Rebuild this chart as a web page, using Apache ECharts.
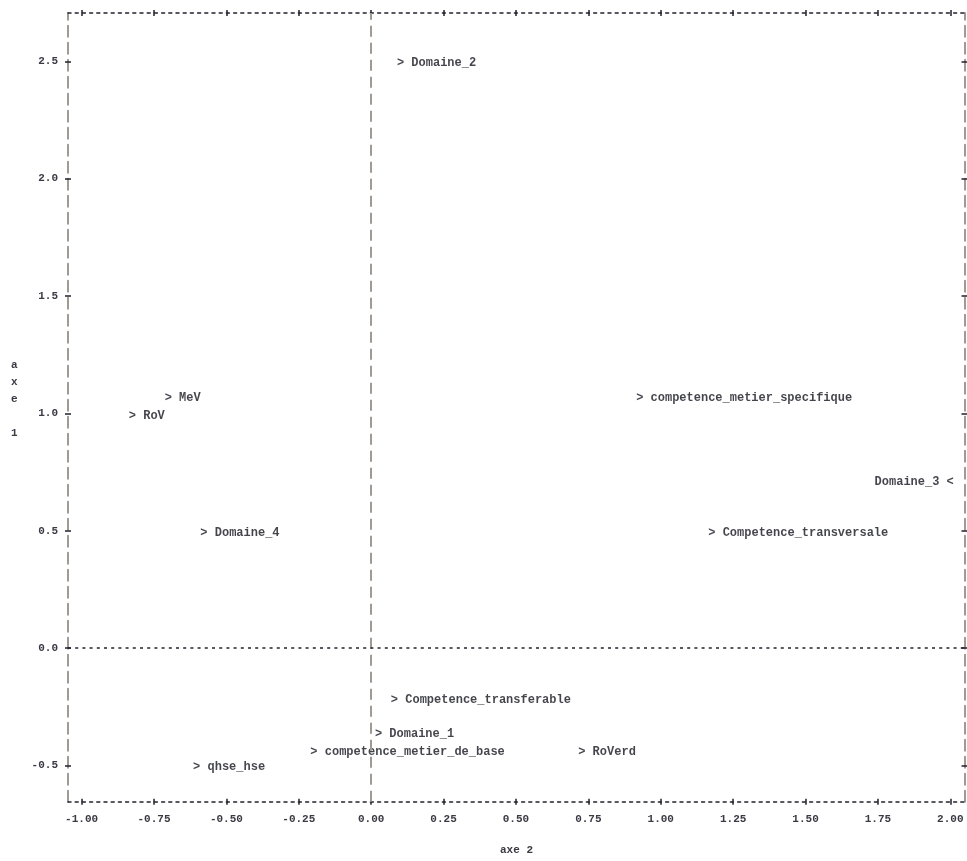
<!DOCTYPE html>
<html>
<head>
<meta charset="utf-8">
<script src="https://cdn.jsdelivr.net/npm/echarts@6/dist/echarts.min.js"></script>
<style>
html, body { margin: 0; padding: 0; background: #fff; }
#chart-container { width: 967px; height: 861px; }
</style>
</head>
<body>
<div id="chart-container"></div>
<script>
// points of the plot (axe 2 horizontal, axe 1 vertical)
var pointNames = ['Domaine_2', 'MeV', 'RoV', 'competence_metier_specifique', 'Domaine_3',
    'Domaine_4', 'Competence_transversale', 'Competence_transferable', 'Domaine_1',
    'competence_metier_de_base', 'RoVerd', 'qhse_hse'];
var axe2Values = [0.089, -0.713, -0.837, 0.915, 2.012, -0.590, 1.164, 0.068, 0.013, -0.210, 0.715, -0.615];
var axe1Values = [2.494, 1.066, 0.990, 1.066, 0.706, 0.491, 0.491, -0.220, -0.365, -0.441, -0.441, -0.507];
var arrowSide = ['>', '>', '>', '>', '<', '>', '>', '>', '>', '>', '>', '>'];

// tick labels
var xTicks = [-1.00, -0.75, -0.50, -0.25, 0.00, 0.25, 0.50, 0.75, 1.00, 1.25, 1.50, 1.75, 2.00];
var yTicks = [-0.5, 0.0, 0.5, 1.0, 1.5, 2.0, 2.5];

var dom = document.getElementById('chart-container');
var myChart = echarts.init(dom, null, { renderer: 'canvas', useDirtyRect: false });

var monoFont = "'Liberation Mono', 'DejaVu Sans Mono', monospace";
var inkColor = '#15151f';
var dotted = { color: '#22222e', width: 1.5, type: [3, 4.2] };
var dashed = { color: '#a09a92', width: 2, type: [11, 6] };
var tickStyle = { color: '#22222e', width: 1.5 };

var X_MIN = -1.047, X_MAX = 2.049;
var Y_MIN = -0.654, Y_MAX = 2.706;

// one axis = line + ticks on one side, a twin gives the other half of the '+'
function makeXAxis(pos, inside, withLine, withLabels) {
    return {
        type: 'value', position: pos, min: X_MIN, max: X_MAX,
        splitLine: { show: false },
        axisLine: { show: withLine, onZero: false, lineStyle: dotted },
        axisTick: { show: true, inside: inside, length: 3, customValues: xTicks, lineStyle: tickStyle },
        axisLabel: {
            show: withLabels, customValues: xTicks, margin: 12,
            fontFamily: monoFont, fontSize: 11, fontWeight: 'bold', color: '#3a3a44',
            formatter: function (v) { return v.toFixed(2); }
        }
    };
}
function makeYAxis(pos, inside, withLine, withLabels) {
    return {
        type: 'value', position: pos, min: Y_MIN, max: Y_MAX,
        splitLine: { show: false },
        axisLine: { show: withLine, onZero: false, lineStyle: dashed },
        axisTick: { show: true, inside: inside, length: 3, customValues: yTicks, lineStyle: tickStyle },
        axisLabel: {
            show: withLabels, customValues: yTicks, margin: 10,
            fontFamily: monoFont, fontSize: 11, fontWeight: 'bold', color: '#3a3a44',
            formatter: function (v) { return v.toFixed(1); }
        }
    };
}

var points = pointNames.map(function (name, i) {
    return {
        name: name,
        value: [axe2Values[i], axe1Values[i]],
        label: { position: arrowSide[i] === '<' ? 'left' : 'right' }
    };
});

var option = {
    animation: false,
    grid: { left: 68, right: 2.5, top: 13, bottom: 59.3 },
    xAxis: [
        makeXAxis('bottom', false, true, true),
        makeXAxis('bottom', true, false, false),
        makeXAxis('top', false, true, false),
        makeXAxis('top', true, false, false)
    ],
    yAxis: [
        makeYAxis('left', false, true, true),
        makeYAxis('left', true, false, false),
        makeYAxis('right', false, true, false),
        makeYAxis('right', true, false, false)
    ],
    graphic: [
        {
            type: 'text', left: 500, top: 845,
            style: { text: 'axe 2', fontFamily: monoFont, fontSize: 11, fontWeight: 'bold', fill: '#3a3a44' }
        },
        {
            type: 'text', left: 11, top: 357,
            style: { text: 'a\nx\ne\n\n1', lineHeight: 16.9, fontFamily: monoFont, fontSize: 11, fontWeight: 'bold', fill: '#3a3a44' }
        }
    ],
    series: [
        {
            type: 'scatter',
            xAxisIndex: 0, yAxisIndex: 0,
            symbolSize: 0,
            data: points,
            label: {
                show: true, distance: 0,
                fontFamily: monoFont, fontSize: 12, fontWeight: 'bold', color: inkColor,
                formatter: function (p) {
                    return p.data.label.position === 'left' ? p.name + ' <' : '> ' + p.name;
                }
            },
            labelLayout: { hideOverlap: false },
            markLine: {
                silent: true, symbol: 'none', label: { show: false },
                data: [
                    { xAxis: 0, lineStyle: dashed },
                    { yAxis: 0, lineStyle: dotted }
                ]
            }
        }
    ]
};

myChart.setOption(option);

window.addEventListener('resize', function () {
    myChart.resize();
});
</script>
</body>
</html>
